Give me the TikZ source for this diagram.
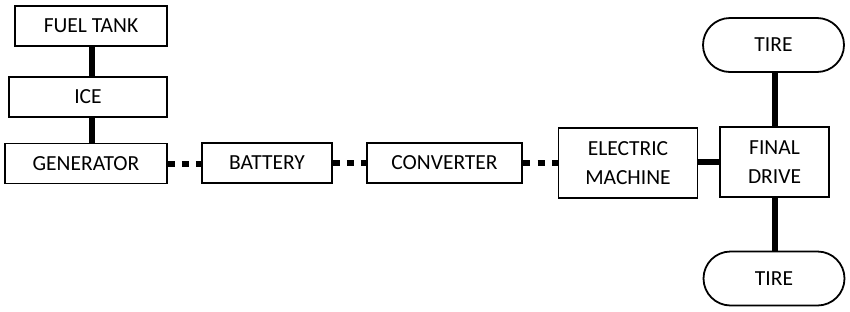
\documentclass[tikz,border=0pt]{standalone}
\usepackage{fontspec}
\setmainfont{Carlito}
\begin{document}
\begin{tikzpicture}[x=1pt,y=-1pt,
  box/.style={draw,line width=1.8pt,inner sep=0pt,align=center,font=\fontsize{21.5}{29}\selectfont},
  tirebox/.style={box,rounded corners=27pt},
  shaft/.style={line width=6pt},
  wire/.style={line width=6pt,dash pattern=on 7pt off 7pt}]
\useasboundingbox (0,0) rectangle (850,311);
\node[box,minimum width=152pt,minimum height=40pt] (ft) at (91,26) {FUEL TANK};
\node[box,minimum width=158pt,minimum height=40pt] (ice) at (88,97) {ICE};
\node[box,minimum width=162pt,minimum height=40pt] (gen) at (86,163.5) {GENERATOR};
\node[box,minimum width=130pt,minimum height=40pt] (bat) at (267,163) {BATTERY};
\node[box,minimum width=155pt,minimum height=40pt] (conv) at (444.5,163) {CONVERTER};
\node[box,minimum width=139pt,minimum height=70pt] (em) at (628,163) {ELECTRIC\\MACHINE};
\node[box,minimum width=109pt,minimum height=70pt] (fd) at (774.5,162) {FINAL\\DRIVE};
\node[tirebox,minimum width=141pt,minimum height=54pt] (t1) at (773.5,45) {TIRE};
\node[tirebox,minimum width=141pt,minimum height=54pt] (t2) at (774,278.5) {TIRE};
\draw[shaft] ([xshift=1pt]ft.south) -- ([xshift=1pt]ft.south |- ice.north);
\draw[shaft] ([xshift=4pt]ice.south) -- ([xshift=4pt]ice.south |- gen.north);
\draw[shaft] (em.east |- fd.west) -- (fd.west);
\draw[shaft] (fd.north) -- (fd.north |- t1.south);
\draw[shaft] (fd.south) -- (fd.south |- t2.north);
\draw[wire] (gen.east) -- (gen.east -| bat.west);
\draw[wire] (bat.east) -- (bat.east -| conv.west);
\draw[wire,dash pattern=on 7.3pt off 7.3pt] (conv.east) -- (conv.east -| em.west);
\end{tikzpicture}
\end{document}
